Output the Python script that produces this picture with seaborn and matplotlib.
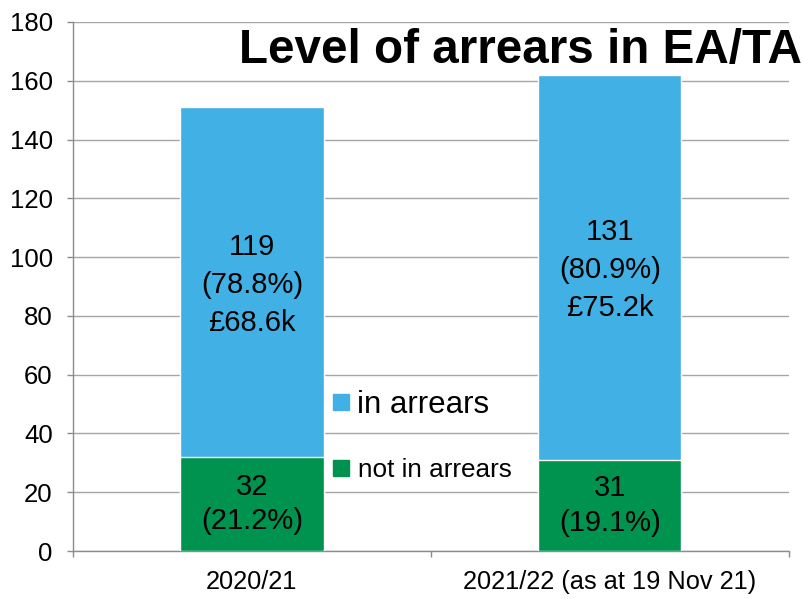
import matplotlib
matplotlib.use("Agg")
import matplotlib.pyplot as plt
import seaborn as sns
import pandas as pd
from matplotlib.lines import Line2D

# Data
periods = ["2020/21", "2021/22 (as at 19 Nov 21)"]
not_in_arrears = [32, 31]
in_arrears = [119, 131]
arrears_value = ["£68.6k", "£75.2k"]

BLUE = "#41B0E4"
GREEN = "#00934F"
GRID = "#A6A6A6"
AXIS = "#8C8C8C"

sns.set_theme(style="white")
plt.rcParams["font.family"] = ["Liberation Sans", "DejaVu Sans"]
plt.rcParams["text.color"] = "black"

totals = [a + b for a, b in zip(not_in_arrears, in_arrears)]
df = pd.DataFrame({"period": periods, "total": totals,
                   "not_in": not_in_arrears, "in_arr": in_arrears})

fig = plt.figure(figsize=(8.04, 5.99), dpi=100)
ax = fig.add_axes([0.0908, 0.0801, 0.8902, 0.8832])

# Stacked bars: full height in blue, lower segment in green
sns.barplot(data=df, x="period", y="total", color=BLUE, width=0.4,
            saturation=1, ax=ax, zorder=3)
sns.barplot(data=df, x="period", y="not_in", color=GREEN, width=0.4,
            saturation=1, ax=ax, zorder=4)

ax.set_ylim(0, 180)
ax.set_xlim(-0.5, 1.5)
ax.set_yticks(range(0, 181, 20))
ax.yaxis.grid(True, color=GRID, linewidth=1.0, zorder=0)
ax.set_axisbelow(True)
ax.set_xlabel("")
ax.set_ylabel("")

for side in ["top", "right"]:
    ax.spines[side].set_visible(False)
for side in ["left", "bottom"]:
    ax.spines[side].set_color(AXIS)
    ax.spines[side].set_linewidth(1.0)

ax.tick_params(axis="y", which="major", left=True, length=4.5, width=1,
               color=AXIS, labelsize=18.5, labelcolor="black", pad=10)
ax.tick_params(axis="x", which="major", bottom=False, length=0,
               labelsize=18.3, labelcolor="black", pad=14)
ax.set_xticks([-0.5, 0.5, 1.5], minor=True)
ax.tick_params(axis="x", which="minor", bottom=True, length=4.5, width=1,
               color=AXIS)

# Segment labels
for i in range(len(periods)):
    g = not_in_arrears[i]
    b = in_arrears[i]
    t = totals[i]
    ax.text(i, g / 2, f"{g}\n({g / t * 100:.1f}%)", ha="center", va="center",
            fontsize=21, linespacing=1.28, color="black", zorder=5)
    ax.text(i, g + b / 2 - 1, f"{b}\n({b / t * 100:.1f}%)\n{arrears_value[i]}",
            ha="center", va="center", fontsize=21, linespacing=1.45,
            color="black", zorder=5)

# Legend entries, each with its own text size
leg1 = ax.legend(handles=[Line2D([], [], marker="s", ls="", markersize=11.5,
                                 color=BLUE)],
                 labels=["in arrears"], fontsize=22.5, frameon=False,
                 loc="center left", bbox_to_anchor=(0.362, 0.2757),
                 handletextpad=0.25, borderpad=0, borderaxespad=0,
                 handlelength=0.55)
for txt in leg1.get_texts():
    txt.set_color("black")
ax.add_artist(leg1)
leg2 = ax.legend(handles=[Line2D([], [], marker="s", ls="", markersize=11.5,
                                 color=GREEN)],
                 labels=["not in arrears"], fontsize=18.8, frameon=False,
                 loc="center left", bbox_to_anchor=(0.362, 0.153),
                 handletextpad=0.32, borderpad=0, borderaxespad=0,
                 handlelength=0.67)
for txt in leg2.get_texts():
    txt.set_color("black")

fig.text(0.997, 0.8948, "Level of arrears in EA/TA", ha="right",
         va="baseline", fontsize=34.3, fontweight="bold", color="black")

fig.savefig("out.png", dpi=100, facecolor="white")
